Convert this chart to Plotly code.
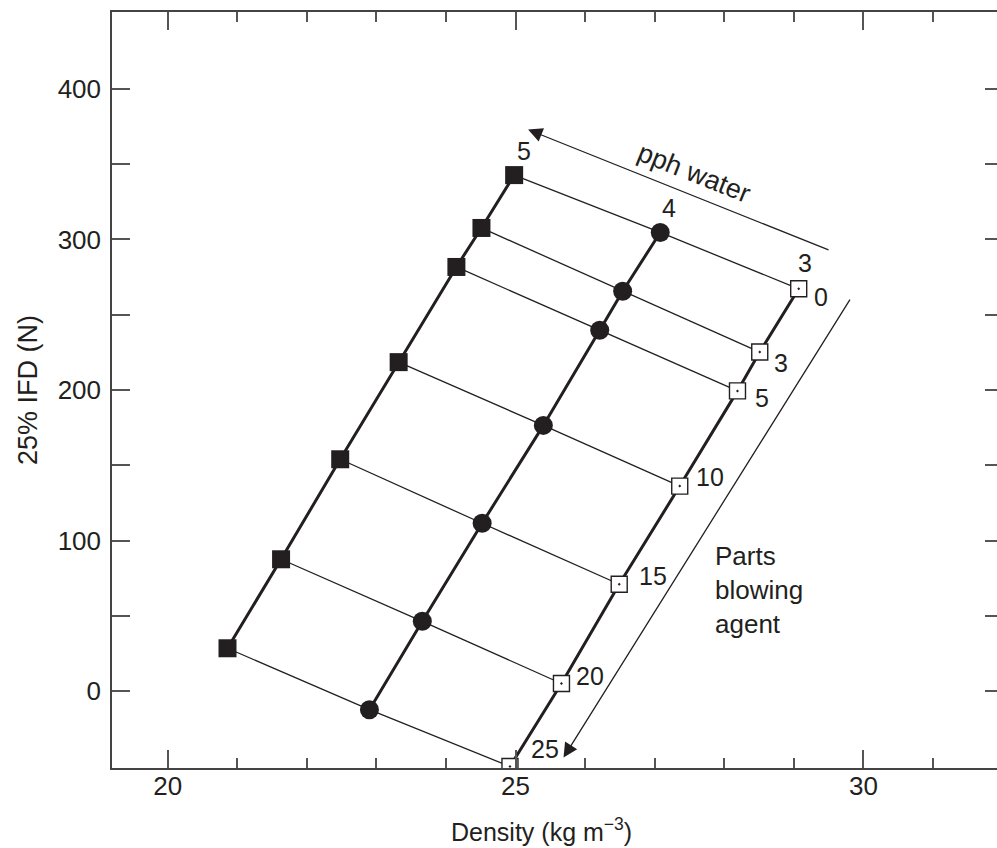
import plotly.graph_objects as go

# ---------------- data ----------------
agent_levels = ["0", "3", "5", "10", "15", "20", "25"]      # parts blowing agent (top -> bottom)
water_levels = ["5", "4", "3"]                                # pph water

water5_density = [24.98, 24.51, 24.15, 23.32, 22.48, 21.63, 20.86]
water5_ifd = [342.7, 307.6, 281.7, 218.5, 154.0, 87.6, 28.5]

water4_density = [27.08, 26.54, 26.21, 25.40, 24.52, 23.66, 22.90]
water4_ifd = [304.6, 265.6, 239.7, 176.5, 111.5, 46.4, -12.3]

water3_density = [29.07, 28.51, 28.19, 27.36, 26.49, 25.66, 24.92]
water3_ifd = [267.2, 225.2, 199.4, 136.2, 71.0, 5.1, -50.0]

y_tick_vals = [0, 50, 100, 150, 200, 250, 300, 350, 400]
y_tick_text = ["0", "", "100", "", "200", "", "300", "", "400"]
x_tick_vals = [20, 25, 30]
x_tick_text = ["20", "25", "30"]

# annotation arrows (data space): tip and tail
water_arrow = dict(tip=(25.18, 372.9), tail=(29.52, 292.6))
agent_arrow = dict(tip=(25.69, -44.0), tail=(29.82, 261.0))

# ---------------- styles ----------------
INK = "#231f20"
FONT = "Liberation Sans, Arial, Helvetica, sans-serif"
agent_label_shift = [(22, -8), (21, -11), (25, -7), (30, 9), (34, 8), (29, 8), (35, 17)]
water_label_shift = [(10, 24), (9, 24), (6, 26)]

fig = go.Figure()

# thin cross lines (constant blowing agent level)
cx, cy = [], []
for i in range(len(agent_levels)):
    cx += [water5_density[i], water4_density[i], water3_density[i], None]
    cy += [water5_ifd[i], water4_ifd[i], water3_ifd[i], None]
fig.add_trace(go.Scatter(x=cx, y=cy, mode="lines", line=dict(color=INK, width=1.3),
                         hoverinfo="skip", showlegend=False))

series = [
    (water5_density, water5_ifd, dict(symbol="square", size=18, color=INK, line=dict(width=0))),
    (water4_density, water4_ifd, dict(symbol="circle", size=19, color=INK, line=dict(width=0))),
    (water3_density, water3_ifd, dict(symbol="square-dot", size=16, color="white",
                                      line=dict(color=INK, width=1.4))),
]
for xs, ys, mk in series:
    fig.add_trace(go.Scatter(x=xs, y=ys, mode="lines", line=dict(color=INK, width=3),
                             hoverinfo="skip", showlegend=False))
for xs, ys, mk in series:
    fig.add_trace(go.Scatter(x=xs, y=ys, mode="markers", marker=mk, showlegend=False,
                             hoverinfo="x+y"))

# invisible trace carrying the right-hand tick axis
fig.add_trace(go.Scatter(x=water3_density, y=water3_ifd, yaxis="y2", mode="markers",
                         marker=dict(opacity=0), showlegend=False, hoverinfo="skip"))

annotations = []
# water level labels over top points
for (xs, ys, _), lab, (dx, dy) in zip(series, water_levels, water_label_shift):
    annotations.append(dict(x=xs[0], y=ys[0], text=lab, showarrow=False, xshift=dx, yshift=dy,
                            font=dict(size=25, color=INK, family=FONT)))
# blowing agent labels next to 3 pph points
for xv, yv, lab, (dx, dy) in zip(water3_density, water3_ifd, agent_levels, agent_label_shift):
    annotations.append(dict(x=xv, y=yv, text=lab, showarrow=False, xshift=dx, yshift=dy,
                            font=dict(size=25, color=INK, family=FONT)))
# arrows
for arr in (water_arrow, agent_arrow):
    annotations.append(dict(x=arr["tip"][0], y=arr["tip"][1], ax=arr["tail"][0], ay=arr["tail"][1],
                            xref="x", yref="y", axref="x", ayref="y", text="", showarrow=True,
                            arrowhead=2, arrowsize=2.2, arrowwidth=1.3, arrowcolor=INK))
annotations.append(dict(x=27.57, y=344.4, text="pph water", textangle=21.7, showarrow=False,
                        xanchor="center", yanchor="middle",
                        font=dict(size=27, color=INK, family=FONT)))
annotations.append(dict(x=27.84, y=67, text="Parts<br>blowing<br>agent", showarrow=False,
                        xanchor="left", yanchor="middle", align="left",
                        font=dict(size=26, color=INK, family=FONT)))
# axis titles
annotations.append(dict(xref="paper", yref="paper", x=0.485, y=-0.082, text="Density (kg m<sup>−3</sup>)",
                        xanchor="center", yanchor="middle",
                        showarrow=False, font=dict(size=25, color=INK, family=FONT)))
annotations.append(dict(xref="paper", yref="paper", x=-0.095, y=0.5, text="25% IFD (N)", textangle=-90,
                        xanchor="center", yanchor="middle",
                        showarrow=False, font=dict(size=27, color=INK, family=FONT)))

fig.update_layout(
    width=997, height=848,
    margin=dict(l=112, r=0, t=12, b=80),
    paper_bgcolor="white", plot_bgcolor="white",
    font=dict(family=FONT, color=INK, size=26),
    annotations=annotations,
    xaxis=dict(range=[19.2, 31.92], tickvals=x_tick_vals, ticktext=x_tick_text,
               ticks="inside", ticklen=18, tickwidth=1.5, tickcolor="#555",
               minor=dict(dtick=1, tick0=20, ticks="inside", ticklen=10, tickwidth=1.5, tickcolor="#555"),
               showline=True, linecolor="#444", linewidth=1.5, mirror="ticks",
               showgrid=False, zeroline=False, ticklabelstandoff=-6,
               tickfont=dict(size=26, color=INK, family=FONT)),
    yaxis=dict(range=[-51, 451], tickvals=y_tick_vals, ticktext=y_tick_text,
               ticks="inside", ticklen=18, tickwidth=1.5, tickcolor="#555",
               showline=True, linecolor="#444", linewidth=1.5,
               showgrid=False, zeroline=False, ticklabelstandoff=4,
               tickfont=dict(size=26, color=INK, family=FONT)),
    yaxis2=dict(range=[-51, 451], type="linear", overlaying="y", side="right", anchor="x",
                tickvals=y_tick_vals, ticks="inside", ticklen=12, tickwidth=1.5, tickcolor="#555",
                showticklabels=False, showline=False, showgrid=False, zeroline=False),
)

fig.write_html("out.html")
